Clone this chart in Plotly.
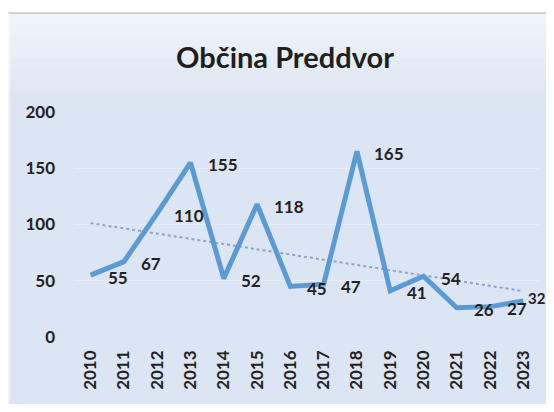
import numpy as np
import plotly.graph_objects as go

years = [2010, 2011, 2012, 2013, 2014, 2015, 2016, 2017, 2018, 2019, 2020, 2021, 2022, 2023]
values = [55, 67, 110, 155, 52, 118, 45, 47, 165, 41, 54, 26, 27, 32]
y_ticks = [0, 50, 100, 150, 200]
title_text = "Občina Preddvor"

FONT = "Lato"
OFF = 8  # page body margin
W, H = 554 - 2 * OFF, 412 - 2 * OFF
# target pixel positions in the window
X_FIRST, X_LAST = 91, 523
Y_ZERO, Y_TOP = 337, 112
step = (X_LAST - X_FIRST) / (len(years) - 1)
ML = int(round(X_FIRST - step / 2 - OFF))
MR = int(round(W - (X_LAST + step / 2 - OFF)))
MT = Y_TOP - OFF
MB = H - (Y_ZERO - OFF)
PW, PH = W - ML - MR, H - MT - MB

# linear trendline (least squares)
xs = np.arange(len(years))
slope, intercept = np.polyfit(xs, values, 1)
trend = [intercept + slope * i for i in xs]

fig = go.Figure()
fig.add_trace(go.Scatter(x=years, y=trend, mode="lines",
                         line=dict(color="#8ea3c6", width=2, dash="dot"),
                         hoverinfo="skip", showlegend=False))
fig.add_trace(go.Scatter(x=years, y=values, mode="lines",
                         line=dict(color="#5b9bd5", width=5),
                         showlegend=False))

for i, (x, v) in enumerate(zip(years, values)):
    last = i == len(years) - 1
    fig.add_annotation(x=x, y=v, text=str(v), showarrow=False,
                       xanchor="left", yanchor="middle",
                       xshift=4 if last else 16, yshift=3 if last else -2,
                       borderpad=0,
                       font=dict(family=FONT, size=15 if last else 17,
                                 color="#222222", weight="bold"))

def px_x(p):
    return (p - OFF - ML) / PW

def px_y(p):
    return 1 - (p - OFF - MT) / PH

shapes = []
shapes.append(dict(type="rect", xref="paper", yref="paper",
                   x0=px_x(0), x1=px_x(600), y0=px_y(13), y1=px_y(0),
                   fillcolor="white", line=dict(width=0), layer="below"))
for k in range(8):
    top = 14 + k * 11
    shapes.append(dict(type="rect", xref="paper", yref="paper",
                       x0=px_x(0), x1=px_x(600), y0=px_y(top + 11), y1=px_y(top),
                       fillcolor="rgba(255,255,255,%.3f)" % (0.55 * (1 - k / 8)),
                       line=dict(width=0), layer="below"))
shapes.append(dict(type="line", xref="paper", yref="paper",
                   x0=px_x(8), x1=px_x(600), y0=px_y(13), y1=px_y(13),
                   line=dict(color="#c8c8c8", width=1.5), layer="below"))
shapes.append(dict(type="rect", xref="paper", yref="paper",
                   x0=px_x(0), x1=px_x(10), y0=px_y(420), y1=px_y(13),
                   fillcolor="rgba(255,255,255,0.55)", line=dict(width=0), layer="below"))

fig.update_layout(
    width=W, height=H,
    margin=dict(l=ML, r=MR, t=MT, b=MB),
    paper_bgcolor="#dce5f3",
    plot_bgcolor="rgba(0,0,0,0)",
    title=dict(text=title_text, x=(285 - OFF) / W, xref="container", xanchor="center",
               y=1 - (58 - OFF) / H, yanchor="middle",
               font=dict(family=FONT, size=29, color="#1f1f1f", weight="bold")),
    shapes=shapes,
    xaxis=dict(range=[years[0] - 0.5, years[-1] + 0.5], tickmode="array",
               tickvals=years, ticktext=[str(y) for y in years], tickangle=-90,
               showgrid=False, zeroline=False, showline=False, ticks="",
               ticklabelstandoff=9,
               tickfont=dict(family=FONT, size=17, color="#222222", weight="bold")),
    yaxis=dict(range=[0, 200], tickmode="array", tickvals=y_ticks,
               showgrid=True, gridcolor="rgba(255,255,255,0.3)", gridwidth=1,
               zeroline=False, showline=False, ticks="", ticklabelstandoff=18,
               tickfont=dict(family=FONT, size=17, color="#222222", weight="bold")),
)

fig.write_html("out.html")
